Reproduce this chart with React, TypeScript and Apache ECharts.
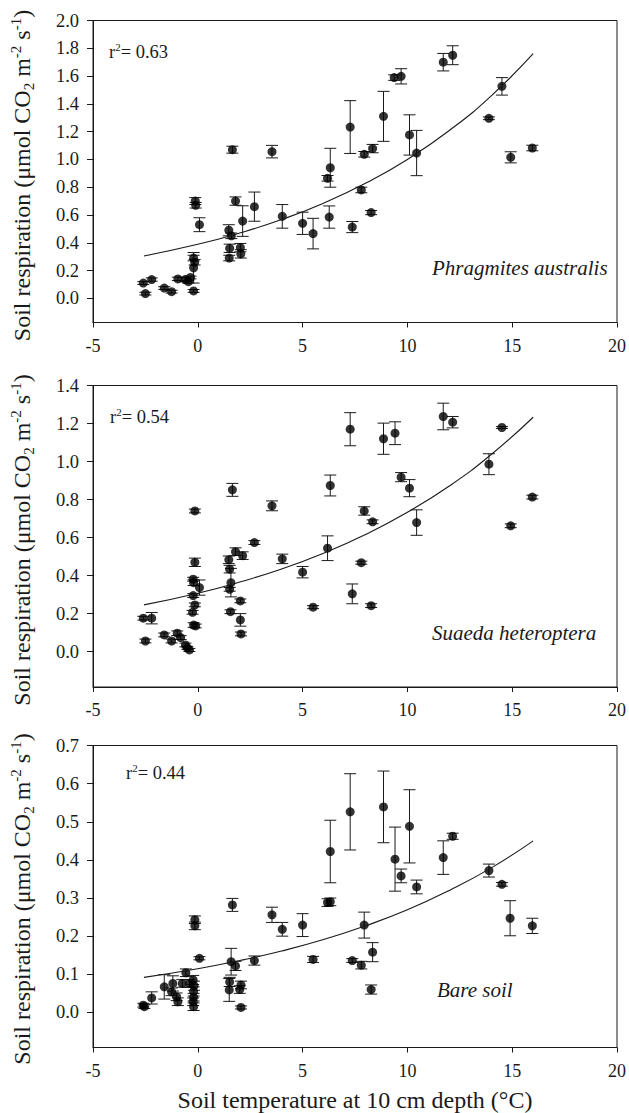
import React, { useEffect, useRef } from "react";
import * as echarts from "echarts";

const FONT = '"Liberation Serif", "Times New Roman", serif';

// Phragmites australis
const tP = [-2.6, -2.5, -2.2, -1.6, -1.25, -0.95, -0.6, -0.35, -0.45, -0.2, -0.2, -0.15, -0.2, -0.12, -0.1, 0.08, 1.48, 1.6, 1.52, 1.5, 1.65, 1.8, 2.03, 2.05, 2.14, 2.7, 3.54, 4.03, 5.0, 5.5, 6.19, 6.32, 6.27, 7.27, 7.37, 7.8, 7.94, 8.27, 8.34, 8.86, 9.37, 9.7, 10.1, 10.44, 11.71, 12.16, 13.89, 14.51, 14.93, 15.96];
const yP = [0.11, 0.034, 0.135, 0.074, 0.048, 0.14, 0.135, 0.15, 0.12, 0.053, 0.29, 0.26, 0.22, 0.7, 0.67, 0.53, 0.49, 0.45, 0.36, 0.29, 1.07, 0.7, 0.365, 0.32, 0.556, 0.66, 1.056, 0.59, 0.54, 0.466, 0.864, 0.94, 0.585, 1.233, 0.513, 0.78, 1.037, 0.617, 1.078, 1.31, 1.589, 1.598, 1.176, 1.046, 1.7, 1.75, 1.296, 1.526, 1.015, 1.082];
const eP = [0.01, 0.01, 0.012, 0.01, 0.01, 0.012, 0.015, 0.01, 0.01, 0.01, 0.02, 0.02, 0.11, 0.025, 0.02, 0.05, 0.04, 0.02, 0.03, 0.02, 0.025, 0.03, 0.03, 0.03, 0.11, 0.105, 0.045, 0.085, 0.08, 0.11, 0.02, 0.14, 0.08, 0.19, 0.04, 0.02, 0.02, 0.015, 0.03, 0.18, 0.02, 0.055, 0.145, 0.163, 0.063, 0.068, 0.01, 0.063, 0.04, 0.02];

// Suaeda heteroptera
const tS = [-2.6, -2.2, -2.5, -1.6, -1.25, -0.98, -0.82, -0.59, -0.4, -0.5, -0.14, -0.14, -0.22, -0.2, -0.22, -0.14, -0.25, -0.2, -0.1, 0.08, 1.48, 1.52, 1.58, 1.52, 1.56, 1.65, 1.8, 2.14, 2.03, 2.03, 2.06, 2.7, 3.54, 4.03, 5.0, 5.5, 6.19, 6.32, 7.27, 7.37, 7.8, 7.94, 8.34, 8.27, 8.86, 9.41, 9.7, 10.1, 10.44, 11.71, 12.16, 13.89, 14.51, 14.93, 15.96];
const yS = [0.176, 0.176, 0.056, 0.088, 0.056, 0.097, 0.074, 0.035, 0.009, 0.02, 0.74, 0.47, 0.381, 0.363, 0.295, 0.246, 0.207, 0.14, 0.135, 0.337, 0.483, 0.434, 0.363, 0.328, 0.21, 0.851, 0.526, 0.505, 0.267, 0.167, 0.093, 0.574, 0.767, 0.488, 0.418, 0.234, 0.544, 0.874, 1.17, 0.304, 0.468, 0.74, 0.683, 0.242, 1.12, 1.149, 0.918, 0.86, 0.679, 1.237, 1.207, 0.986, 1.179, 0.662, 0.813];
const eS = [0.01, 0.03, 0.01, 0.01, 0.01, 0.012, 0.01, 0.01, 0.008, 0.008, 0.01, 0.022, 0.01, 0.015, 0.01, 0.01, 0.01, 0.012, 0.01, 0.04, 0.02, 0.02, 0.075, 0.01, 0.01, 0.034, 0.02, 0.02, 0.01, 0.033, 0.01, 0.01, 0.026, 0.025, 0.03, 0.008, 0.065, 0.055, 0.087, 0.052, 0.008, 0.022, 0.01, 0.01, 0.082, 0.06, 0.024, 0.045, 0.067, 0.07, 0.03, 0.055, 0.005, 0.01, 0.01];

// Bare soil
const tB = [-2.6, -2.55, -2.2, -1.6, -1.19, -1.25, -1.01, -0.95, -0.74, -0.57, -0.4, -0.22, -0.18, -0.2, -0.2, -0.22, -0.2, -0.14, -0.14, 0.08, 1.59, 1.8, 1.65, 1.52, 1.5, 2.06, 2.0, 2.06, 2.7, 3.54, 4.03, 5.0, 5.5, 6.19, 6.32, 6.32, 7.27, 7.37, 7.8, 7.94, 8.34, 8.27, 8.86, 9.41, 9.7, 10.1, 10.44, 11.71, 12.16, 13.89, 14.51, 14.9, 15.96];
const yB = [0.019, 0.015, 0.038, 0.067, 0.076, 0.054, 0.041, 0.028, 0.076, 0.104, 0.076, 0.085, 0.07, 0.055, 0.04, 0.028, 0.015, 0.243, 0.227, 0.142, 0.133, 0.122, 0.282, 0.08, 0.059, 0.072, 0.06, 0.013, 0.136, 0.256, 0.218, 0.229, 0.139, 0.288, 0.29, 0.422, 0.526, 0.136, 0.124, 0.229, 0.158, 0.06, 0.539, 0.402, 0.358, 0.488, 0.329, 0.406, 0.462, 0.372, 0.336, 0.247, 0.227];
const eB = [0.005, 0.005, 0.016, 0.032, 0.02, 0.01, 0.01, 0.01, 0.01, 0.01, 0.01, 0.012, 0.012, 0.012, 0.01, 0.01, 0.01, 0.01, 0.01, 0.004, 0.035, 0.012, 0.017, 0.012, 0.03, 0.01, 0.01, 0.004, 0.012, 0.02, 0.018, 0.03, 0.008, 0.01, 0.01, 0.082, 0.1, 0.005, 0.01, 0.034, 0.025, 0.012, 0.094, 0.084, 0.018, 0.096, 0.018, 0.044, 0.008, 0.017, 0.005, 0.046, 0.02];

// Fitted curves
const curveX = [-2.57, 0, 2, 4, 6, 8, 10, 12, 14, 16];
const curveP = [0.305, 0.389, 0.47, 0.567, 0.685, 0.828, 1.0, 1.208, 1.458, 1.761];
const curveS = [0.246, 0.3075, 0.366, 0.435, 0.518, 0.616, 0.733, 0.871, 1.037, 1.233];
const curveB = [0.092, 0.1146, 0.136, 0.161, 0.191, 0.227, 0.269, 0.32, 0.379, 0.45];

const r2Labels = ["0.63", "0.54", "0.44"];
const speciesLabels = ["Phragmites australis", "Suaeda heteroptera", "Bare soil"];
const yMins = [-0.174, -0.186, -0.092];
const yMaxs = [2.0, 1.4, 0.7];
const yTicks = [
  [0, 0.2, 0.4, 0.6, 0.8, 1.0, 1.2, 1.4, 1.6, 1.8, 2.0],
  [0, 0.2, 0.4, 0.6, 0.8, 1.0, 1.2, 1.4],
  [0, 0.1, 0.2, 0.3, 0.4, 0.5, 0.6, 0.7],
];
const xTicks = [-5, 0, 5, 10, 15, 20];

const grids = [
  { left: 93, top: 20.5, width: 524, height: 302 },
  { left: 93, top: 385.5, width: 524, height: 301.5 },
  { left: 93, top: 745.5, width: 524, height: 302 },
];

const INK = "#1a1a1a";

export default function App() {
  const ref = useRef<HTMLDivElement>(null);
  useEffect(() => {
    if (!ref.current) return;
    const chart = echarts.init(ref.current, undefined, { renderer: "svg" });
    const sets = [
      [tP, yP, eP, curveP],
      [tS, yS, eS, curveS],
      [tB, yB, eB, curveB],
    ];
    const series: any[] = [];
    sets.forEach(([t, y, e, c], i) => {
      series.push({
        type: "custom",
        xAxisIndex: i,
        yAxisIndex: i,
        data: (t as number[]).map((v, k) => [v, (y as number[])[k], (e as number[])[k]]),
        encode: { x: 0, y: 1 },
        z: 2,
        silent: true,
        renderItem: (params: any, api: any) => {
          const x = api.value(0);
          const yy = api.value(1);
          const er = api.value(2);
          const top = api.coord([x, yy + er]);
          const bot = api.coord([x, yy - er]);
          const st = { stroke: INK, lineWidth: 1 };
          return {
            type: "group",
            children: [
              { type: "line", shape: { x1: top[0], y1: top[1], x2: bot[0], y2: bot[1] }, style: st },
              { type: "line", shape: { x1: top[0] - 6, y1: top[1], x2: top[0] + 6, y2: top[1] }, style: st },
              { type: "line", shape: { x1: bot[0] - 6, y1: bot[1], x2: bot[0] + 6, y2: bot[1] }, style: st },
            ],
          };
        },
      });
      series.push({
        type: "scatter",
        xAxisIndex: i,
        yAxisIndex: i,
        symbol: "circle",
        symbolSize: 9,
        itemStyle: { color: "#000" },
        z: 3,
        data: (t as number[]).map((v, k) => [v, (y as number[])[k]]),
      });
      series.push({
        type: "line",
        xAxisIndex: i,
        yAxisIndex: i,
        smooth: true,
        showSymbol: false,
        symbol: "none",
        lineStyle: { color: INK, width: 1.1 },
        z: 4,
        data: curveX.map((v, k) => [v, (c as number[])[k]]),
      });
    });

    const graphics: any[] = [];
    const r2Pos = [
      [109, 52],
      [110, 417],
      [126, 773],
    ];
    r2Pos.forEach(([x, y], i) => {
      graphics.push({
        type: "text",
        x,
        y,
        style: {
          text: `{a|r}{s|2}{a|= ${r2Labels[i]}}`,
          textVerticalAlign: "middle",
          verticalAlign: "middle",
          rich: {
            a: { fontFamily: FONT, fontSize: 18.5, lineHeight: 22, fill: INK, color: INK },
            s: { fontFamily: FONT, fontSize: 11, lineHeight: 12, verticalAlign: "top", fill: INK, color: INK },
          },
        },
      });
    });
    const spPos = [
      [432, 268],
      [432, 633],
      [437, 990],
    ];
    spPos.forEach(([x, y], i) => {
      graphics.push({
        type: "text",
        x,
        y,
        style: {
          text: speciesLabels[i],
          font: `italic 21px ${FONT}`,
          fontFamily: FONT,
          fontSize: 21,
          fontStyle: "italic",
          fill: INK,
          textVerticalAlign: "middle",
          verticalAlign: "middle",
        },
      });
    });
    const yCenters = [175.5, 540, 899];
    yCenters.forEach((cy) => {
      graphics.push({
        type: "text",
        x: 22,
        y: cy,
        rotation: Math.PI / 2,
        style: {
          text: "{t|Soil respiration (μmol CO}{b|2}{t| m}{s|-2}{t| s}{s|-1}{t|)}",
          align: "center",
          textAlign: "center",
          verticalAlign: "middle",
          textVerticalAlign: "middle",
          rich: {
            t: { fontFamily: FONT, fontSize: 24, lineHeight: 28, fill: INK, color: INK },
            s: { fontFamily: FONT, fontSize: 15, lineHeight: 15, verticalAlign: "top", fill: INK, color: INK },
            b: { fontFamily: FONT, fontSize: 15, lineHeight: 16, verticalAlign: "bottom", fill: INK, color: INK },
          },
        },
      });
    });
    graphics.push({
      type: "text",
      x: 355,
      y: 1100,
      style: {
        text: "Soil temperature at 10 cm depth (°C)",
        fontFamily: FONT,
        fontSize: 24,
        fill: INK,
        textAlign: "center",
        align: "center",
        textVerticalAlign: "middle",
        verticalAlign: "middle",
      },
    });

    chart.setOption({
      animation: false,
      backgroundColor: "#fff",
      grid: grids.map((g) => ({ ...g, show: true, borderColor: INK, borderWidth: 1, backgroundColor: "transparent" })),
      xAxis: grids.map((_, i) => ({
        type: "value",
        gridIndex: i,
        min: -5,
        max: 20,
        interval: 5,
        axisLine: { show: true, onZero: false, lineStyle: { color: INK, width: 1 } },
        axisTick: { show: true, inside: false, length: 5, lineStyle: { color: INK } },
        axisLabel: {
          fontFamily: FONT,
          fontSize: 18,
          color: INK,
          margin: 14,
          customValues: xTicks,
          formatter: (v: number) => String(v),
        },
        splitLine: { show: false },
      })),
      yAxis: grids.map((_, i) => ({
        type: "value",
        gridIndex: i,
        min: yMins[i],
        max: yMaxs[i],
        axisLine: { show: true, onZero: false, lineStyle: { color: INK, width: 1 } },
        axisTick: { show: true, inside: false, length: 6, lineStyle: { color: INK }, customValues: yTicks[i] },
        axisLabel: {
          fontFamily: FONT,
          fontSize: 18.5,
          color: INK,
          margin: 14,
          customValues: yTicks[i],
          formatter: (v: number) => v.toFixed(1),
        },
        splitLine: { show: false },
      })),
      series,
      graphic: graphics,
    });
    return () => chart.dispose();
  }, []);
  return (
    <div
      ref={ref}
      style={{ position: "absolute", left: 0, top: 0, width: 629, height: 1113, background: "#fff" }}
    />
  );
}
